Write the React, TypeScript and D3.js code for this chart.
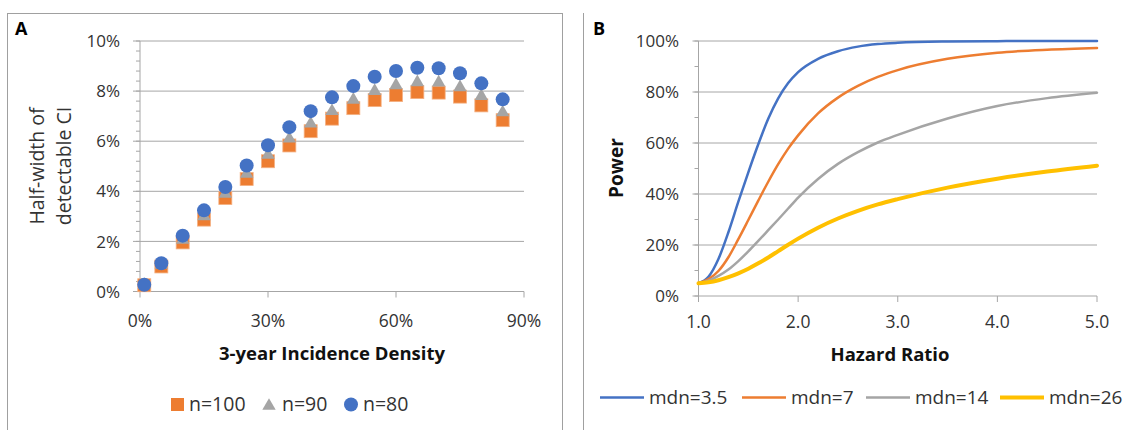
import React from 'react';
import * as d3 from 'd3';

// ---------- Panel A data ----------
const incidence = [1, 5, 10, 15, 20, 25, 30, 35, 40, 45, 50, 55, 60, 65, 70, 75, 80, 85];
const n100 = [0.25, 1.0, 1.96, 2.87, 3.73, 4.49, 5.2, 5.83, 6.4, 6.9, 7.32, 7.64, 7.84, 7.96, 7.94, 7.78, 7.43, 6.84];
const n90 = [0.26, 1.06, 2.06, 3.0, 3.9, 4.7, 5.45, 6.1, 6.7, 7.2, 7.65, 8.0, 8.23, 8.35, 8.34, 8.15, 7.8, 7.15];
const n80 = [0.27, 1.13, 2.23, 3.24, 4.17, 5.03, 5.84, 6.56, 7.2, 7.75, 8.2, 8.57, 8.8, 8.93, 8.91, 8.71, 8.31, 7.67];
const yTicksA = [0, 2, 4, 6, 8, 10];
const xTicksA = [0, 30, 60, 90];
const seriesA = ['n=100', 'n=90', 'n=80'];

// ---------- Panel B data ----------
const hazardRatio = [1.0, 1.1, 1.2, 1.3, 1.4, 1.5, 1.6, 1.7, 1.8, 1.9, 2.0, 2.2, 2.4, 2.6, 2.8, 3.0, 3.5, 4.0, 4.5, 5.0];
const mdn35 = [5, 7.5, 14.5, 25, 37, 48.5, 59.5, 69.5, 77.5, 83.5, 87.8, 93, 96, 97.8, 98.8, 99.3, 99.8, 99.95, 100, 100];
const mdn7 = [5, 6.6, 9.8, 15.2, 22.3, 29.8, 37.4, 44.8, 51.7, 57.8, 63, 71.6, 77.8, 82.4, 85.9, 88.6, 93, 95.4, 96.6, 97.3];
const mdn14 = [5, 6, 7.9, 10.4, 13.7, 17.5, 21.6, 25.8, 30, 34.3, 38.6, 45.9, 51.8, 56.4, 60.2, 63.2, 69.6, 74.5, 77.6, 79.7];
const mdn26 = [5, 5.4, 6.2, 7.4, 8.9, 10.7, 12.8, 15.1, 17.6, 20.1, 22.5, 26.8, 30.4, 33.4, 35.9, 38.0, 42.5, 46.0, 48.8, 51.1];
const yTicksB = [0, 20, 40, 60, 80, 100];
const xTicksB = [1, 2, 3, 4, 5];
const seriesB = ['mdn=3.5', 'mdn=7', 'mdn=14', 'mdn=26'];

const ORANGE = '#ED7D31';
const GREY = '#A5A5A5';
const BLUE = '#4472C4';
const YELLOW = '#FFC000';
const GRID = '#A6A6A6';
const TXT = '#333333';
const FONT = "'Open Sans', 'Noto Sans', sans-serif";

export default function App() {
  // Scales panel A
  const xA = d3.scaleLinear().domain([0, 90]).range([140, 524]);
  const yA = d3.scaleLinear().domain([0, 10]).range([291.5, 41]);
  // Scales panel B
  const xB = d3.scaleLinear().domain([1, 5]).range([698.5, 1097]);
  const yB = d3.scaleLinear().domain([0, 100]).range([296, 41]);

  const minorA = d3.range(0, 10.0001, 0.4);
  const minorB = d3.range(0, 100.0001, 10);

  const tri = d3.symbol().type(d3.symbolTriangle).size(78)() as string;

  const lineB = (vals: number[]) =>
    d3
      .line<number>()
      .x((_, i) => xB(hazardRatio[i]))
      .y((d) => yB(d))
      .curve(d3.curveMonotoneX)(vals) as string;

  const linesB = [
    { name: seriesB[0], vals: mdn35, color: BLUE, w: 2.5 },
    { name: seriesB[1], vals: mdn7, color: ORANGE, w: 2.5 },
    { name: seriesB[2], vals: mdn14, color: GREY, w: 2.5 },
    { name: seriesB[3], vals: mdn26, color: YELLOW, w: 4 },
  ];
  const legendBX = [600, 742, 866, 1000];

  return (
    <div style={{ position: 'absolute', left: 0, top: 0 }}>
      <svg width={1130} height={430} style={{ display: 'block', background: '#fff' }} fontFamily={FONT}>
        {/* Panel frames */}
        <rect x={7.5} y={13.5} width={555} height={440} fill="none" stroke="#A0A0A0" strokeWidth={1} />
        <line x1={583.5} x2={583.5} y1={13} y2={430} stroke="#A0A0A0" strokeWidth={1} />

        {/* ===== Panel A ===== */}
        <text x={15} y={35} fontSize={18} fontWeight="bold" fill="#000">A</text>
        {yTicksA.map((t) => (
          <line key={'ga' + t} x1={xA(0) - 7} x2={xA(90)} y1={yA(t)} y2={yA(t)} stroke={GRID} strokeWidth={1} />
        ))}
        {minorA.map((t, i) => (
          <line key={'ma' + i} x1={xA(0) - 4} x2={xA(0)} y1={yA(t)} y2={yA(t)} stroke={GRID} strokeWidth={1} />
        ))}
        <line x1={xA(0)} x2={xA(0)} y1={yA(0)} y2={yA(10)} stroke={GRID} strokeWidth={1} />
        {xTicksA.map((t) => (
          <line key={'xa' + t} x1={xA(t)} x2={xA(t)} y1={yA(0)} y2={yA(0) + 6} stroke={GRID} strokeWidth={1} />
        ))}
        {yTicksA.map((t) => (
          <text key={'la' + t} x={120} y={yA(t)} dy="0.36em" textAnchor="end" fontSize={17} fill={TXT}>
            {t + '%'}
          </text>
        ))}
        {xTicksA.map((t) => (
          <text key={'lxa' + t} x={xA(t)} y={327} textAnchor="middle" fontSize={17.5} fill={TXT}>
            {t + '%'}
          </text>
        ))}
        <text transform="translate(44,166) rotate(-90)" textAnchor="middle" fontSize={19.5} fill={TXT}>Half-width of</text>
        <text transform="translate(71,166) rotate(-90)" textAnchor="middle" fontSize={19.5} fill={TXT}>detectable CI</text>
        <text x={332} y={360} textAnchor="middle" fontSize={18.5} fontWeight="bold" fill="#111">3-year Incidence Density</text>

        {/* markers */}
        {incidence.map((x, i) => (
          <rect key={'s' + i} x={xA(x) - 6.5} y={yA(n100[i]) - 6.5} width={13} height={13} fill={ORANGE} stroke="#F4B183" strokeWidth={0.8} />
        ))}
        {incidence.map((x, i) => (
          <path key={'t' + i} d={tri} transform={`translate(${xA(x)},${yA(n90[i])})`} fill={GREY} />
        ))}
        {incidence.map((x, i) => (
          <circle key={'c' + i} cx={xA(x)} cy={yA(n80[i])} r={7} fill={BLUE} />
        ))}

        {/* legend A */}
        <rect x={171} y={398} width={13} height={13} fill={ORANGE} />
        <text x={189} y={411} fontSize={19.5} fill={TXT}>{seriesA[0]}</text>
        <path d={tri} transform="translate(269,406)" fill={GREY} />
        <text x={282} y={411} fontSize={19.5} fill={TXT}>{seriesA[1]}</text>
        <circle cx={351} cy={404.5} r={7} fill={BLUE} />
        <text x={363} y={411} fontSize={19.5} fill={TXT}>{seriesA[2]}</text>

        {/* ===== Panel B ===== */}
        <text x={593} y={35} fontSize={18} fontWeight="bold" fill="#000">B</text>
        {yTicksB.map((t) => (
          <line key={'gb' + t} x1={xB(1) - 6} x2={xB(5)} y1={yB(t)} y2={yB(t)} stroke={GRID} strokeWidth={1} />
        ))}
        {minorB.map((t, i) => (
          <line key={'mb' + i} x1={xB(1) - 4} x2={xB(1)} y1={yB(t)} y2={yB(t)} stroke={GRID} strokeWidth={1} />
        ))}
        <line x1={xB(1)} x2={xB(1)} y1={yB(0)} y2={yB(100)} stroke={GRID} strokeWidth={1} />
        {xTicksB.map((t) => (
          <line key={'xb' + t} x1={xB(t)} x2={xB(t)} y1={yB(0)} y2={yB(0) + 6} stroke={GRID} strokeWidth={1} />
        ))}
        {yTicksB.map((t) => (
          <text key={'lb' + t} x={679} y={yB(t)} dy="0.36em" textAnchor="end" fontSize={17} fill={TXT}>
            {t + '%'}
          </text>
        ))}
        {xTicksB.map((t) => (
          <text key={'lxb' + t} x={xB(t)} y={328} textAnchor="middle" fontSize={17.5} fill={TXT}>
            {t.toFixed(1)}
          </text>
        ))}
        <text transform="translate(623,168) rotate(-90)" textAnchor="middle" fontSize={19} fontWeight="bold" fill="#111">Power</text>
        <text x={890} y={361} textAnchor="middle" fontSize={18.5} fontWeight="bold" fill="#111">Hazard Ratio</text>

        {linesB.map((s) => (
          <path key={s.name} d={lineB(s.vals)} fill="none" stroke={s.color} strokeWidth={s.w} strokeLinejoin="round" strokeLinecap="round" />
        ))}

        {/* legend B */}
        {linesB.map((s, i) => (
          <g key={'lg' + i}>
            <line x1={legendBX[i]} x2={legendBX[i] + 44} y1={397.5} y2={397.5} stroke={s.color} strokeWidth={s.w} />
            <text x={legendBX[i] + 49} y={404} fontSize={19} fill={TXT}>{s.name}</text>
          </g>
        ))}
      </svg>
    </div>
  );
}
